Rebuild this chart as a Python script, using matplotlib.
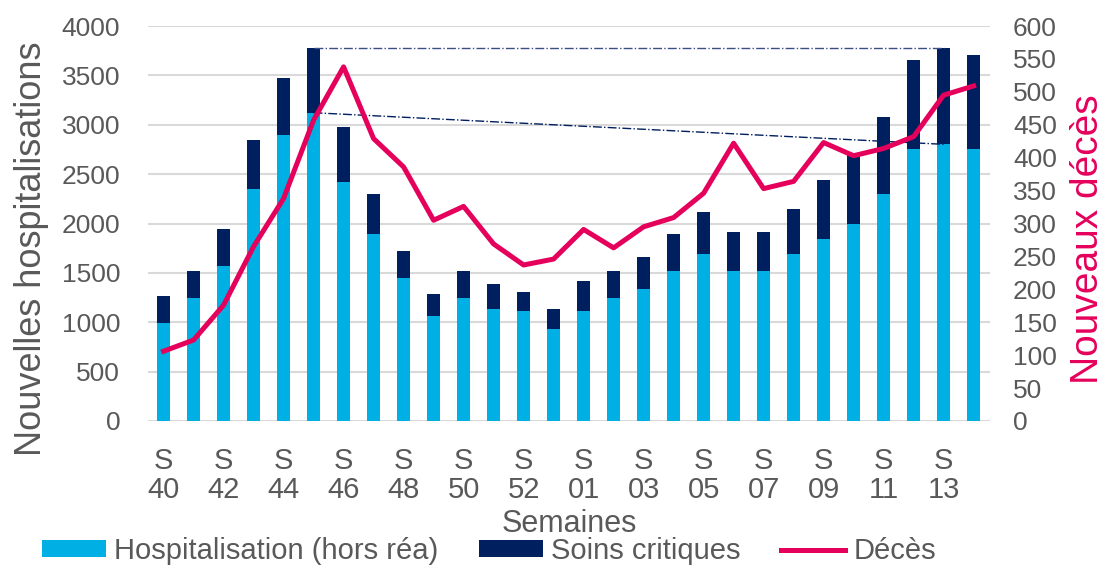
import matplotlib.pyplot as plt
import numpy as np
from matplotlib.patches import Patch
from matplotlib.lines import Line2D

plt.rcParams['font.family'] = ['Liberation Sans', 'DejaVu Sans']

# -----------------------------
# Data
# -----------------------------
weeks = ["40", "41", "42", "43", "44", "45", "46", "47", "48", "49", "50", "51", "52", "53",
         "01", "02", "03", "04", "05", "06", "07", "08", "09", "10", "11", "12", "13", "14"]

hospitalisation = [990, 1242, 1570, 2346, 2899, 3122, 2424, 1894, 1445, 1063,
                   1242, 1137, 1114, 935, 1114, 1242, 1340, 1516, 1688, 1516,
                   1516, 1688, 1843, 1995, 2299, 2751, 2802, 2751]

total_hosp = [1266, 1516, 1941, 2846, 3477, 3777, 2974, 2295, 1718, 1286,
              1516, 1387, 1310, 1137, 1414, 1516, 1664, 1894, 2116, 1917,
              1917, 2144, 2441, 2694, 3075, 3653, 3777, 3703]

deces = [106, 123, 176, 265, 338, 457, 538, 429, 386, 305,
         326, 269, 237, 246, 291, 263, 295, 309, 346, 422,
         353, 364, 423, 403, 414, 432, 495, 509]

soins_critiques = [t - h for t, h in zip(total_hosp, hospitalisation)]

# week positions used for the two comparison lines (S45 -> S13)
ref_start, ref_end = 5, 26

# colours
c_hosp = "#00B0E4"
c_crit = "#001F5F"
c_dec = "#E5005B"
c_text = "#595959"

x = np.arange(len(weeks))
tick_labels = [f"S\n{w}" if i % 2 == 0 else "" for i, w in enumerate(weeks)]

# -----------------------------
# Figure
# -----------------------------
fig = plt.figure(figsize=(11.1, 5.66), dpi=100)
ax = fig.add_axes([0.1333, 0.2562, 0.7587, 0.6978])

ax.bar(x, hospitalisation, width=0.42, color=c_hosp, zorder=2)
ax.bar(x, soins_critiques, width=0.42, bottom=hospitalisation, color=c_crit, zorder=2)

# dash-dot comparison lines
ax.plot([ref_start, ref_end], [total_hosp[ref_start], total_hosp[ref_end]],
        linestyle='-.', color="#3B4F85", linewidth=1.0, zorder=3)
ax.plot([ref_start, ref_end], [hospitalisation[ref_start], hospitalisation[ref_end]],
        linestyle='-.', color=c_crit, linewidth=1.0, zorder=3)

ax.set_xlim(-0.52, 27.55)
ax.set_ylim(0, 4000)
ax.set_yticks(np.arange(0, 4001, 500))
ax.set_xticks(x)
ax.set_xticklabels(tick_labels, linespacing=1.05)
ax.grid(axis='y', color="#D9D9D9", linewidth=1.5, zorder=0)
ax.set_axisbelow(True)
for s in ax.spines.values():
    s.set_visible(False)
ax.tick_params(axis='y', length=0, pad=20, labelsize=19, labelcolor=c_text)
ax.tick_params(axis='x', length=0, pad=18.5, labelsize=21, labelcolor=c_text)

ax.set_ylabel("Nouvelles hospitalisations", fontsize=26, color=c_text)
ax.yaxis.set_label_coords(-0.117, 0.435)
ax.set_xlabel("Semaines", fontsize=22, color=c_text, labelpad=4)

# right axis: deaths
ax2 = ax.twinx()
ax2.plot(x, deces, color=c_dec, linewidth=3.6, solid_joinstyle='round', zorder=4)
ax2.set_ylim(0, 600)
ax2.set_yticks(np.arange(0, 601, 50))
for s in ax2.spines.values():
    s.set_visible(False)
ax2.tick_params(axis='y', length=0, pad=16.5, labelsize=19, labelcolor=c_text)
ax2.set_ylabel("Nouveaux décès", fontsize=28, color=c_dec, rotation=90)
ax2.yaxis.set_label_coords(1.095, 0.461)

# legend
handles = [Patch(facecolor=c_hosp, edgecolor='none'),
           Patch(facecolor=c_crit, edgecolor='none'),
           Line2D([0], [0], color=c_dec, linewidth=3.6)]
labels = ["Hospitalisation (hors réa)", "Soins critiques", "Décès"]
fig.legend(handles, labels, loc='center left', bbox_to_anchor=(0.014, 0.0265), ncol=3,
           frameon=False, fontsize=21, handlelength=2.2, handleheight=0.5,
           handletextpad=0.27, columnspacing=1.4, labelcolor=c_text)

fig.savefig("out.png", dpi=100)
